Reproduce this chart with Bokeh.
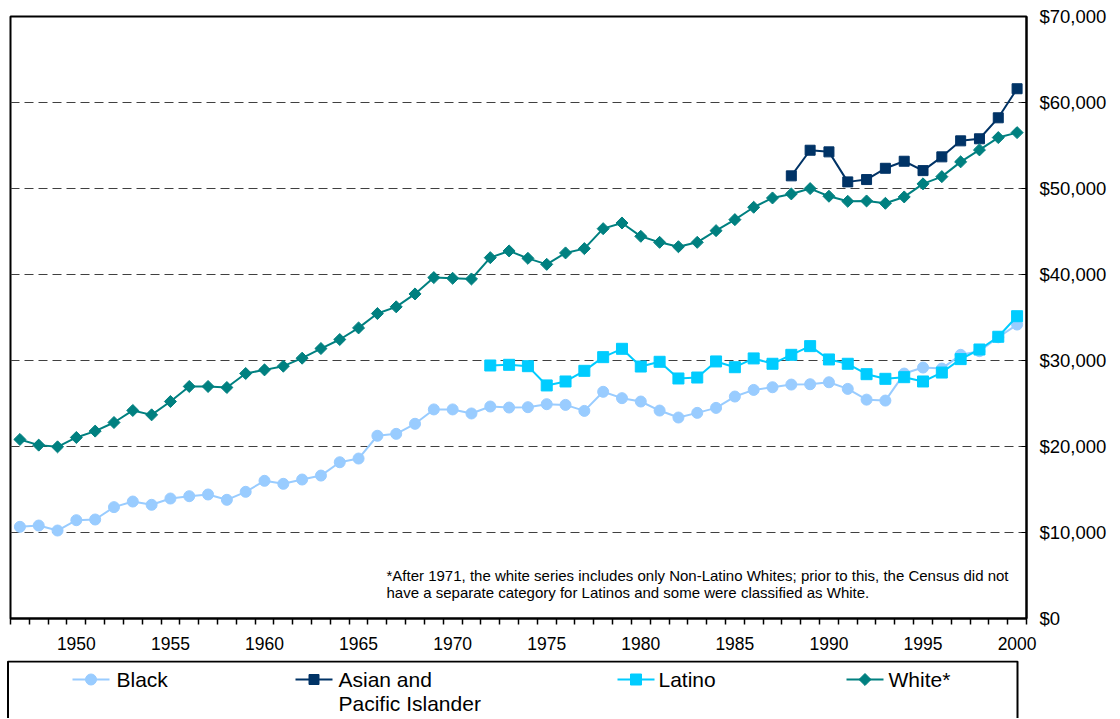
import numpy as np
from bokeh.plotting import figure
from bokeh.models import Range1d, FixedTicker, NumeralTickFormatter, Label
from bokeh.layouts import column
from bokeh.embed import file_html
from bokeh.resources import INLINE
from bokeh.core.properties import value

# ---------------- data ----------------
years = list(range(1947, 2001))

black = [10660, 10810, 10230, 11430, 11510, 12950, 13600, 13220, 13950, 14220,
         14420, 13800, 14730, 16010, 15660, 16160, 16620, 18170, 18600, 21250,
         21470, 22640, 24310, 24310, 23840, 24650, 24530, 24570, 24920, 24840,
         24140, 26360, 25620, 25230, 24180, 23370, 23910, 24490, 25810, 26580,
         26890, 27200, 27240, 27470, 26700, 25450, 25340, 28480, 29180, 29060,
         30660, 31080, 32700, 34180]

latino_years = list(range(1972, 2001))
latino = [29420, 29500, 29340, 27100, 27560, 28800, 30390, 31360, 29300, 29850,
          27910, 28020, 29890, 29220, 30240, 29620, 30660, 31670, 30120, 29620,
          28410, 27870, 28060, 27560, 28600, 30160, 31280, 32760, 35150]

white = [20820, 20160, 19960, 21050, 21790, 22790, 24190, 23680, 25230, 26980,
         26980, 26860, 28490, 28910, 29340, 30270, 31390, 32440, 33790, 35460,
         36240, 37740, 39640, 39560, 39480, 41960, 42740, 41880, 41180, 42510,
         43010, 45330, 45990, 44440, 43740, 43230, 43740, 45100, 46380, 47820,
         48900, 49370, 49990, 49100, 48510, 48550, 48280, 49020, 50540, 51380,
         53100, 54490, 55920, 56500]

asian_years = list(range(1988, 2001))
asian = [51470, 54450, 54260, 50770, 51040, 52350, 53170, 52080, 53680, 55540,
         55780, 58220, 61600]

x_label_years = [1950, 1955, 1960, 1965, 1970, 1975, 1980, 1985, 1990, 1995, 2000]
y_ticks = [0, 10000, 20000, 30000, 40000, 50000, 60000, 70000]
grid_ticks = [10000, 20000, 30000, 40000, 50000, 60000]

legend_labels = ["Black", "Asian and", "Pacific Islander", "Latino", "White*"]
note_lines = [
    "*After 1971, the white series includes only Non-Latino Whites; prior to this, the Census did not",
    "have a separate category for Latinos and some were classified as White.",
]

C_BLACK = "#99CCFF"
C_ASIAN = "#003366"
C_LATINO = "#00CCFF"
C_WHITE = "#008080"
FONT = "Liberation Sans"

# ---------------- main chart ----------------
p = figure(width=1112, height=660, output_backend="svg", toolbar_location=None,
           x_range=Range1d(years[0] - 0.5, years[-1] + 0.5),
           y_range=Range1d(y_ticks[0], y_ticks[-1]),
           y_axis_location="right",
           min_border_left=10, min_border_right=86, min_border_top=16, min_border_bottom=42)
p.frame_align = False
p.background_fill_color = "white"
p.border_fill_color = "white"
p.outline_line_color = "black"
p.outline_line_width = 2

p.xgrid.visible = False
p.ygrid.ticker = FixedTicker(ticks=grid_ticks)
p.ygrid.grid_line_color = "#404040"
p.ygrid.grid_line_dash = "9 5"
p.ygrid.grid_line_width = 1

bounds = [y - 0.5 for y in years] + [years[-1] + 0.5]
xa = p.xaxis[0]
xa.ticker = FixedTicker(ticks=x_label_years, minor_ticks=bounds)
xa.axis_line_color = "black"
xa.axis_line_width = 2
xa.major_tick_line_color = None
xa.major_tick_in = 0
xa.major_tick_out = 0
xa.minor_tick_in = 0
xa.minor_tick_out = 6
xa.minor_tick_line_color = "black"
xa.minor_tick_line_width = 1.5
xa.major_label_standoff = 12
xa.major_label_text_font = FONT
xa.major_label_text_font_size = "17.5px"
xa.major_label_text_color = "black"

ya = p.yaxis[0]
ya.ticker = FixedTicker(ticks=y_ticks)
ya.formatter = NumeralTickFormatter(format="$0,0")
ya.axis_line_color = "black"
ya.axis_line_width = 2
ya.major_tick_in = 5
ya.major_tick_out = 0
ya.major_tick_line_color = "black"
ya.minor_tick_line_color = None
ya.major_label_standoff = 13
ya.major_label_text_font = FONT
ya.major_label_text_font_size = "18.5px"
ya.major_label_text_color = "black"

# series
p.line(years, black, line_color=C_BLACK, line_width=2)
p.scatter(years, black, marker="circle", size=11, fill_color=C_BLACK, line_color=C_BLACK)

p.line(asian_years, asian, line_color=C_ASIAN, line_width=2)
p.scatter(asian_years, asian, marker="square", size=10, fill_color=C_ASIAN, line_color=C_ASIAN)

p.line(latino_years, latino, line_color=C_LATINO, line_width=2)
p.scatter(latino_years, latino, marker="square", size=11, fill_color=C_LATINO, line_color=C_LATINO)

p.line(years, white, line_color=C_WHITE, line_width=2)
p.scatter(years, white, marker="square", angle=np.pi / 4, size=8.5,
          fill_color=C_WHITE, line_color=C_WHITE)

p.add_layout(Label(x=376, y=43, x_units="screen", y_units="screen", text=note_lines[0],
                   text_baseline="middle", text_font=FONT, text_font_size="15px",
                   text_color="black"))
p.add_layout(Label(x=376, y=26, x_units="screen", y_units="screen", text=note_lines[1],
                   text_baseline="middle", text_font=FONT, text_font_size="15px",
                   text_color="black"))

# ---------------- legend panel ----------------
LW, LH = 1020, 58
lg = figure(width=LW, height=LH, output_backend="svg", toolbar_location=None,
            x_range=Range1d(0, LW), y_range=Range1d(LH, 0),
            min_border=0, min_border_left=0, min_border_right=0,
            min_border_top=0, min_border_bottom=0)
lg.frame_align = False
lg.axis.visible = False
lg.grid.visible = False
lg.outline_line_color = None
lg.background_fill_color = "white"
lg.border_fill_color = "white"

# box (its bottom edge lies outside the window in the reference)
lg.line([7.5, 7.5, 1017, 1017], [LH + 2, 1, 1, LH + 2], line_color="black", line_width=2)

items = [
    (72, C_BLACK, "circle", 11, 0),
    (295, C_ASIAN, "square", 10, 0),
    (617, C_LATINO, "square", 11, 0),
    (846, C_WHITE, "square", 8.5, np.pi / 4),
]
for x0, col, mk, sz, ang in items:
    lg.line([x0, x0 + 37], [19, 19], line_color=col, line_width=2)
    lg.scatter([x0 + 18.5], [19], marker=mk, size=sz, angle=ang, fill_color=col, line_color=col)

text_x = [116, 338, 338, 658, 888]
text_y = [19, 19, 43, 19, 19]
lg.text(x=text_x, y=text_y, text=legend_labels,
        text_font=value(FONT), text_font_size="21px", text_baseline="middle",
        text_align="left", text_color="black")

layout = column(p, lg, spacing=0)
open("out.html", "w").write(file_html(layout, INLINE))
